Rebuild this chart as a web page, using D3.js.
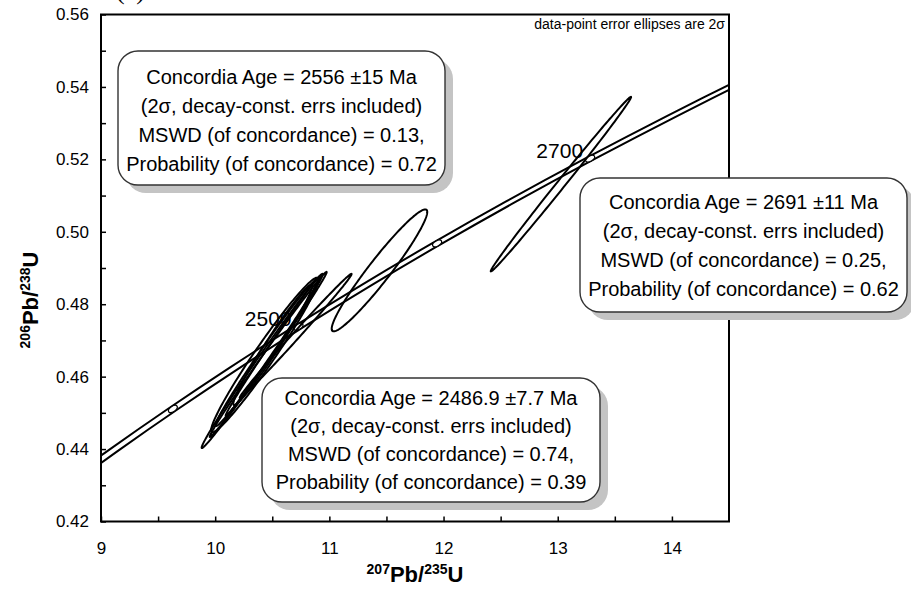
<!DOCTYPE html>
<html><head><meta charset="utf-8">
<script src="https://cdn.jsdelivr.net/npm/d3@7"></script>
<style>body{margin:0;background:#fff} svg{display:block}</style>
</head><body>
<svg id="c" width="911" height="600"></svg>
<script>
// ---- data ----
const xTickValues = [9, 9.5, 10, 10.5, 11, 11.5, 12, 12.5, 13, 13.5, 14];
const xTickLabels = ["9", "", "10", "", "11", "", "12", "", "13", "", "14"];
const yTickValues = [0.42,0.43,0.44,0.45,0.46,0.47,0.48,0.49,0.50,0.51,0.52,0.53,0.54,0.55,0.56];
const yTickLabels = ["0.42","","0.44","","0.46","","0.48","","0.50","","0.52","","0.54","","0.56"];

// concordia (Ma, 207Pb/235U, 206Pb/238U)
const concAges = [2300, 2350, 2400, 2450, 2500, 2550, 2600, 2650, 2700, 2750, 2800];
const concX = [8.6326, 9.1188, 9.6296, 10.1661, 10.7297, 11.3218, 11.9437, 12.5970, 13.2834, 14.0043, 14.7617];
const concY = [0.42873, 0.43986, 0.45107, 0.46237, 0.47375, 0.48523, 0.49679, 0.50845, 0.52019, 0.53203, 0.54396];
const concBandHalfX = 0.045;
const markerAges = [2400, 2500, 2600, 2700];
const labelAges = [2500, 2700];

// data-point error ellipses (2 sigma)
const ellX   = [10.4117, 10.4642, 10.4510, 10.5079, 10.5035, 10.7045, 10.4336, 11.4388, 13.028];
const ellSX  = [0.5301, 0.5122, 0.4479, 0.4160, 0.3447, 0.4900, 0.4689, 0.4184, 0.6147];
const ellY   = [0.46434, 0.46613, 0.46669, 0.46848, 0.46876, 0.47124, 0.46599, 0.48934, 0.51316];
const ellSY  = [0.024050, 0.022798, 0.020325, 0.019344, 0.016608, 0.017139, 0.021328, 0.016838, 0.02411];
const ellRho = [0.99495, 0.99650, 0.98981, 0.99605, 0.97743, 0.99646, 0.97419, 0.9572, 0.9973];

const boxLinesA = ["Concordia Age = 2556 \u00b115 Ma", "(2\u03c3, decay-const. errs included)", "MSWD (of concordance) = 0.13,", "Probability (of concordance) = 0.72"];
const boxLinesB = ["Concordia Age = 2486.9 \u00b17.7 Ma", "(2\u03c3, decay-const. errs included)", "MSWD (of concordance) = 0.74,", "Probability (of concordance) = 0.39"];
const boxLinesC = ["Concordia Age = 2691 \u00b111 Ma", "(2\u03c3, decay-const. errs included)", "MSWD (of concordance) = 0.25,", "Probability (of concordance) = 0.62"];

// ---- drawing ----
const FONT = "'Liberation Sans', Arial, Helvetica, sans-serif";
const svg = d3.select("#c");
const L = 101, R = 729, T = 14.5, B = 521.5;
const x = d3.scaleLinear().domain([9, 14.5]).range([L, R]);
const y = d3.scaleLinear().domain([0.42, 0.56]).range([B, T]);

svg.append("defs").append("clipPath").attr("id", "plot")
  .append("rect").attr("x", L).attr("y", T).attr("width", R - L).attr("height", B - T);

// (a) label, mostly cut off at top
svg.append("text").attr("x", 116).attr("y", -1)
  .attr("font-family", "'Liberation Serif', 'Times New Roman', serif").attr("font-size", 26)
  .text("(a)");

// axes
const xAxis = d3.axisBottom(x).tickValues(xTickValues)
  .tickFormat((d, i) => xTickLabels[i]).tickSize(-5).tickPadding(20);
const gx = svg.append("g").attr("transform", `translate(0,${B})`).call(xAxis);
const yAxis = d3.axisLeft(y).tickValues(yTickValues)
  .tickFormat((d, i) => yTickLabels[i]).tickSize(-5).tickPadding(12);
const gy = svg.append("g").attr("transform", `translate(${L},0)`).call(yAxis);
[gx, gy].forEach(g => {
  g.select(".domain").remove();
  g.selectAll(".tick line").attr("stroke", "#000").attr("stroke-width", 1.5);
  g.selectAll(".tick text").attr("font-family", FONT).attr("font-size", 17).attr("fill", "#000");
});

const plot = svg.append("g").attr("clip-path", "url(#plot)");

// concordia band
const cpts = concAges.map((a, i) => ({a, x: concX[i], y: concY[i]}));
const lineFn = d3.line().curve(d3.curveCatmullRom);
[-1, 1].forEach(sgn => {
  plot.append("path")
    .attr("d", lineFn(cpts.map(p => [x(p.x + sgn * concBandHalfX), y(p.y)])))
    .attr("fill", "none").attr("stroke", "#000").attr("stroke-width", 2);
});

// age markers
markerAges.forEach(a => {
  const i = concAges.indexOf(a);
  const px = x(concX[i]), py = y(concY[i]);
  const ang = Math.atan2(y(concY[i + 1]) - y(concY[i - 1]), x(concX[i + 1]) - x(concX[i - 1])) * 180 / Math.PI;
  plot.append("ellipse").attr("cx", px).attr("cy", py).attr("rx", 5).attr("ry", 2.6)
    .attr("transform", `rotate(${ang},${px},${py})`)
    .attr("fill", "#fff").attr("stroke", "#000").attr("stroke-width", 1.2);
});

// data ellipses
const N = 180;
const ellLine = d3.line().curve(d3.curveLinearClosed);
ellX.forEach((cx, k) => {
  const sx = ellSX[k], sy = ellSY[k], r = ellRho[k], q = Math.sqrt(1 - r * r);
  const pts = d3.range(N).map(j => {
    const t = 2 * Math.PI * j / N;
    return [x(cx + sx * Math.cos(t)), y(ellY[k] + sy * (r * Math.cos(t) + q * Math.sin(t)))];
  });
  plot.append("path").attr("d", ellLine(pts))
    .attr("fill", "none").attr("stroke", "#000").attr("stroke-width", 2);
});

// age labels
labelAges.forEach(a => {
  const i = concAges.indexOf(a);
  svg.append("text").attr("x", x(concX[i]) - 7).attr("y", y(concY[i]) - 1)
    .attr("text-anchor", "end").attr("font-family", FONT).attr("font-size", 21)
    .text(a);
});

// frame
svg.append("rect").attr("x", L).attr("y", T).attr("width", R - L).attr("height", B - T)
  .attr("fill", "none").attr("stroke", "#000").attr("stroke-width", 2);

// note
svg.append("text").attr("x", 725).attr("y", 29).attr("text-anchor", "end")
  .attr("font-family", FONT).attr("font-size", 14).text("data-point error ellipses are 2\u03c3");

// boxes
function box(bx, by, bw, bh, lines, firstCenter, step) {
  svg.append("rect").attr("x", bx + 8).attr("y", by + 8).attr("width", bw).attr("height", bh)
    .attr("rx", 20).attr("fill", "#c4c4c4");
  svg.append("rect").attr("x", bx).attr("y", by).attr("width", bw).attr("height", bh)
    .attr("rx", 20).attr("fill", "#fff").attr("stroke", "#333").attr("stroke-width", 1.4);
  lines.forEach((t, i) => {
    svg.append("text").attr("x", bx + bw / 2).attr("y", by + firstCenter + i * step + 7)
      .attr("text-anchor", "middle").attr("font-family", FONT).attr("font-size", 20).text(t);
  });
}
box(118, 51, 327, 134, boxLinesA, 26, 29);
box(262, 378, 338, 124, boxLinesB, 20, 28);
box(580, 178, 327, 134, boxLinesC, 23.5, 29);

// axis titles
const xt = svg.append("text").attr("x", 415).attr("y", 582).attr("text-anchor", "middle")
  .attr("font-family", FONT).attr("font-weight", "bold").attr("font-size", 22);
xt.append("tspan").attr("font-size", 14).attr("dy", -8).text("207");
xt.append("tspan").attr("dy", 8).text("Pb/");
xt.append("tspan").attr("font-size", 14).attr("dy", -8).text("235");
xt.append("tspan").attr("dy", 8).text("U");

const yt = svg.append("text").attr("transform", "translate(38,300) rotate(-90)").attr("text-anchor", "middle")
  .attr("font-family", FONT).attr("font-weight", "bold").attr("font-size", 22);
yt.append("tspan").attr("font-size", 14).attr("dy", -8).text("206");
yt.append("tspan").attr("dy", 8).text("Pb/");
yt.append("tspan").attr("font-size", 14).attr("dy", -8).text("238");
yt.append("tspan").attr("dy", 8).text("U");
</script>
</body></html>
